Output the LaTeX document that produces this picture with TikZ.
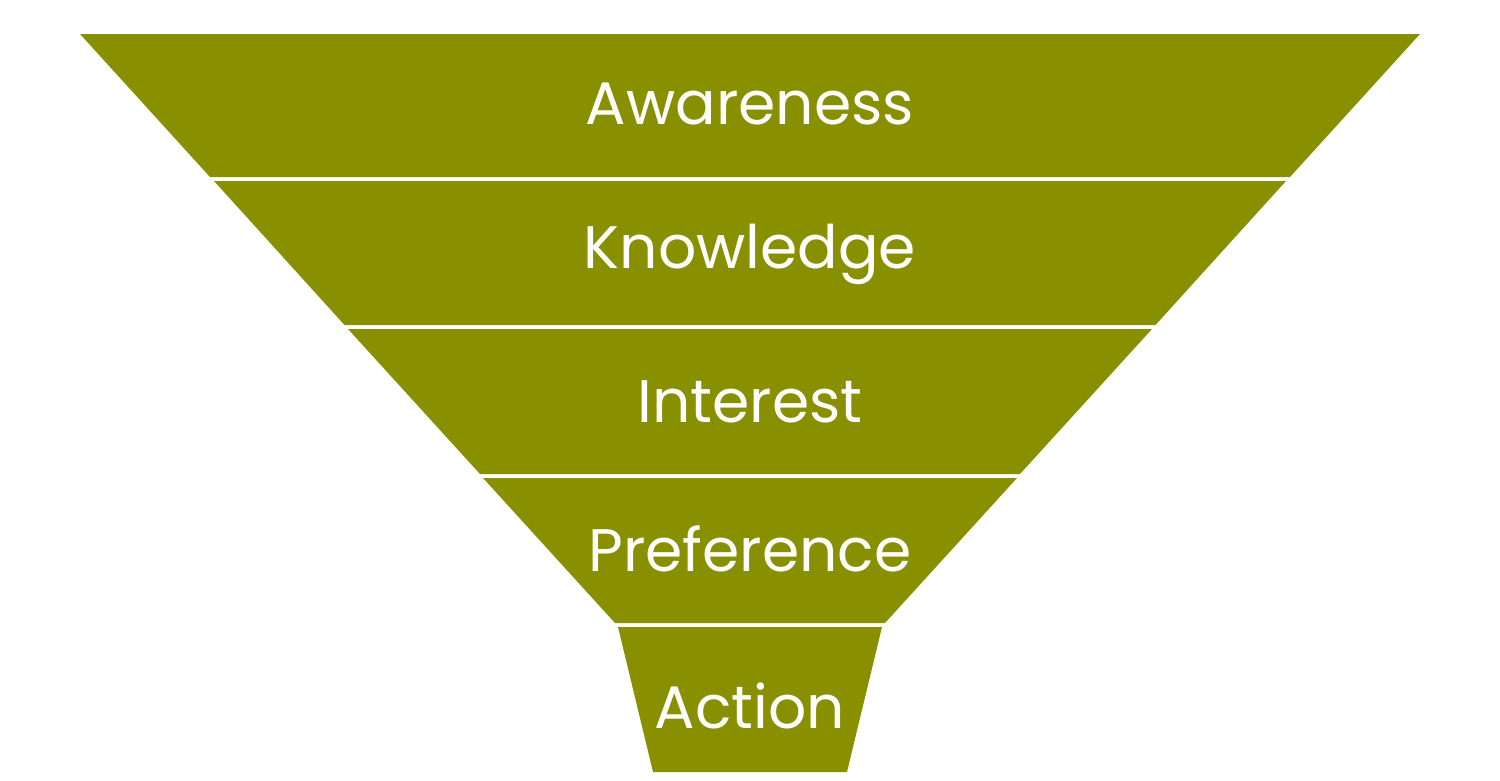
\documentclass[tikz,border=0pt]{standalone}
\usepackage{fontspec}
\setmainfont{Poppins}
\definecolor{olive}{RGB}{137,144,0}
\tikzset{
  band/.style={fill=olive, draw=none},
  lbl/.style={text=white, font=\fontsize{60}{66}\selectfont, inner sep=0pt, anchor=center}
}
\begin{document}
\begin{tikzpicture}[x=1pt,y=-1pt]
\useasboundingbox (0,0) rectangle (1500,780);
\fill[white] (0,0) rectangle (1500,780);
% bands
\path[band] (80,34) -- (1420,34) -- (1290,177) -- (210,177) -- cycle;
\path[band] (214,181) -- (1286,181) -- (1155.5,325) -- (344.5,325) -- cycle;
\path[band] (348,329) -- (1152,329) -- (1020,474) -- (480,474) -- cycle;
\path[band] (483,478) -- (1017,478) -- (885,623) -- (615,623) -- cycle;
\path[band] (618,627) -- (882,627) -- (847,772) -- (653,772) -- cycle;
% labels
\node[lbl] (awareness) at (750,104) {Awareness};
\node[lbl] (knowledge) at (750,254) {Knowledge};
\node[lbl] (interest) at (750,402) {Interest};
\node[lbl] (preference) at (750,549) {Preference};
\node[lbl] (action) at (750,706) {Action};
\end{tikzpicture}
\end{document}
